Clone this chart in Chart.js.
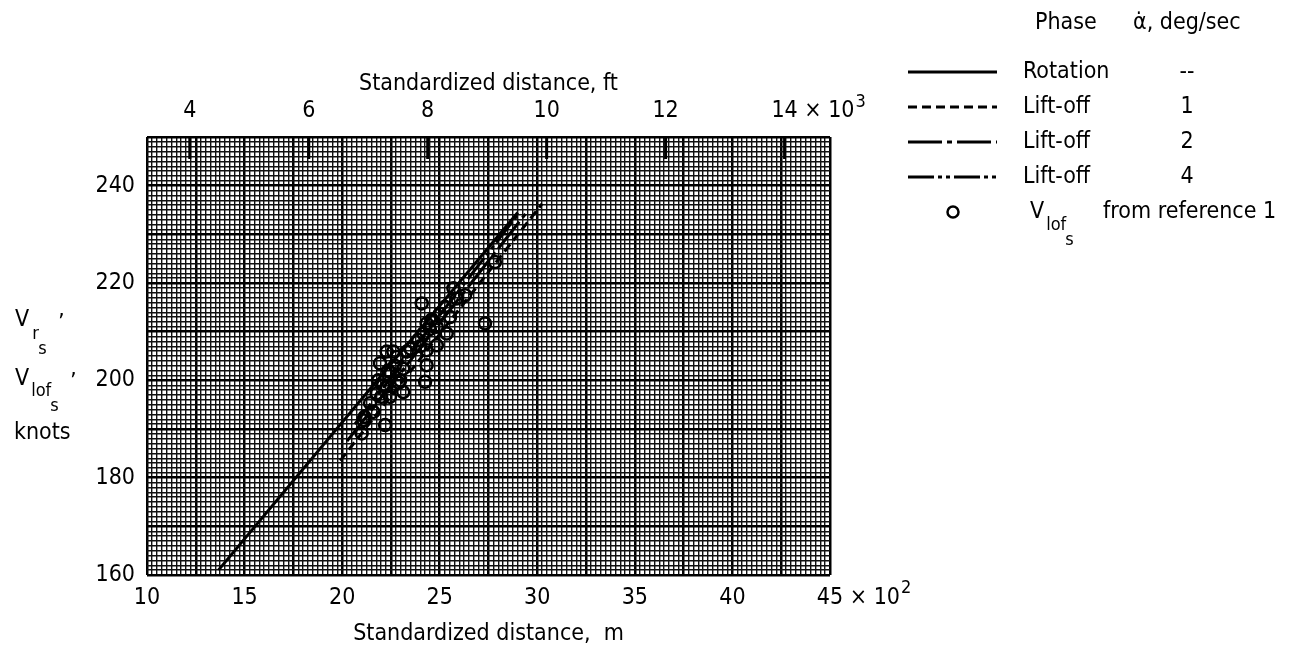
<!DOCTYPE html>
<html>
<head>
<meta charset="utf-8">
<script src="https://cdn.jsdelivr.net/npm/chart.js"></script>
<style>
  html, body { margin: 0; padding: 0; background: #fff; }
  #wrap { position: relative; width: 1297px; height: 652px; }
</style>
</head>
<body>
<div id="wrap"><canvas id="chart" width="1297" height="652"></canvas></div>
<script>
const FONT = "'DejaVu Sans Condensed', 'Liberation Sans Narrow', 'Liberation Sans', sans-serif";
const FS = 23;
const SUB = 18;
const M_TO_FT = 3.28084;

// Tick labels (the multiplier is written after the last one)
const mTicks = [1000, 1500, 2000, 2500, 3000, 3500, 4000, 4500];
const mTickLabels = ['10', '15', '20', '25', '30', '35', '40', '45'];
const mExponent = '2';
const ftTicks = [4000, 6000, 8000, 10000, 12000, 14000];
const ftTickLabels = ['4', '6', '8', '10', '12', '14'];
const ftExponent = '3';
const knotTicks = [160, 180, 200, 220, 240];

// Faired lines (distance m, speed knots)
const rotationDist = [1366, 2900];
const rotationSpeed = [161, 234.5];
const liftoff1Dist = [1990, 3025];
const liftoff1Speed = [183.5, 236.3];
const liftoff2Dist = [2025, 2955];
const liftoff2Speed = [187.5, 235];
const liftoff4Dist = [2065, 2900];
const liftoff4Speed = [191, 234];

// V_lof_s from reference 1
const refDist = [2100, 2108, 2115, 2143, 2160, 2177, 2185, 2194, 2200, 2210,
                 2220, 2228, 2228, 2235, 2245, 2245, 2262, 2270, 2280, 2290,
                 2297, 2313, 2313, 2331, 2350, 2390, 2408, 2416, 2425, 2433,
                 2433, 2433, 2450, 2485, 2485, 2501, 2527, 2536, 2553, 2570,
                 2587, 2630, 2732, 2783, 2460, 2400];
const refSpeed = [189.1, 191.8, 192.5, 195.3, 193.5, 197.3, 200.0, 203.5, 196.6, 199.0,
                  190.8, 205.9, 198.7, 202.0, 201.7, 196.6, 205.9, 203.0, 204.8, 199.5,
                  200.0, 202.4, 197.6, 205.9, 206.5, 208.3, 215.8, 209.6, 199.7, 203.1,
                  206.2, 211.7, 210.5, 207.2, 211.0, 213.7, 215.1, 209.6, 213.0, 218.9,
                  216.8, 217.5, 211.7, 224.3, 212.5, 207.0];

// Legend table
const legendPhases = ['Rotation', 'Lift-off', 'Lift-off', 'Lift-off'];
const legendRates = ['--', '1', '2', '4'];

const dashes = [[], [9, 5], [34, 5, 5, 5], [26, 4, 4, 4, 4, 4]];

function pts(xs, ys) {
  return xs.map((x, i) => ({ x: x, y: ys[i] }));
}

function lineSet(label, xs, ys, dash) {
  return {
    label: label,
    data: pts(xs, ys),
    showLine: true,
    borderColor: '#000',
    borderWidth: 3,
    borderDash: dash,
    pointRadius: 0,
    fill: false
  };
}

function gridColor(major) {
  return (ctx) => (ctx.tick && ctx.tick.value % major === 0) ? '#000' : '#111';
}
function gridWidth(major) {
  return (ctx) => (ctx.tick && ctx.tick.value % major === 0) ? 2.5 : 1.4;
}

function text(ctx, s, x, y, size, align, base) {
  ctx.font = size + 'px ' + FONT;
  ctx.textAlign = align || 'left';
  ctx.textBaseline = base || 'middle';
  ctx.fillText(s, x, y);
  return ctx.measureText(s).width;
}

// "× 10^n" after the last tick label of an axis, on the same line as that label
function multiplier(ctx, scale, exp) {
  const items = scale.getLabelItems().filter(it => it.label !== '');
  const it = items[items.length - 1];
  const base = it.options.textBaseline;
  const y = it.options.translation[1] + it.textOffset;
  ctx.font = FS + 'px ' + FONT;
  const px = it.options.translation[0] + ctx.measureText(it.label).width / 2;
  const w = text(ctx, ' \u00d7 10', px, y, FS, 'left', base);
  text(ctx, exp, px + w + 1, y - 9, SUB, 'left', base);
}

// inward ticks of the ft axis, multipliers, y-axis title and the legend table
const extras = {
  id: 'extras',
  afterDraw(chart) {
    const ctx = chart.ctx;
    const top = chart.scales.x2;
    const area = chart.chartArea;
    ctx.save();
    ctx.strokeStyle = '#000';
    ctx.fillStyle = '#000';
    ctx.lineWidth = 3;
    top.ticks.forEach(t => {
      const px = top.getPixelForValue(t.value);
      ctx.beginPath();
      ctx.moveTo(px, area.top);
      ctx.lineTo(px, area.top + 22);
      ctx.stroke();
    });

    multiplier(ctx, chart.scales.x, mExponent);
    multiplier(ctx, top, ftExponent);

    // y title
    let w = text(ctx, 'V', 15, 320, FS);
    text(ctx, 'r', 15 + w + 3, 334, SUB);
    text(ctx, 's', 15 + w + 9, 349, SUB);
    text(ctx, '\u2019', 58, 324, FS);
    w = text(ctx, 'V', 15, 379, FS);
    const w2 = text(ctx, 'lof', 15 + w + 2, 391, SUB);
    text(ctx, 's', 15 + w + w2 + 1, 406, SUB);
    text(ctx, '\u2019', 70, 383, FS);
    text(ctx, 'knots', 14, 433, FS);

    // legend
    text(ctx, 'Phase', 1035, 23, FS);
    text(ctx, '\u03b1\u0307, deg/sec', 1133, 23, FS);
    const rowY = [72, 107, 142, 177];
    legendPhases.forEach((p, i) => {
      ctx.setLineDash(dashes[i]);
      ctx.lineWidth = 3;
      ctx.beginPath();
      ctx.moveTo(908, rowY[i]);
      ctx.lineTo(997, rowY[i]);
      ctx.stroke();
      ctx.setLineDash([]);
      text(ctx, p, 1023, rowY[i], FS);
      text(ctx, legendRates[i], 1187, rowY[i], FS, 'center');
    });
    ctx.lineWidth = 2.5;
    ctx.beginPath();
    ctx.arc(953, 212, 5.5, 0, Math.PI * 2);
    ctx.stroke();
    w = text(ctx, 'V', 1030, 212, FS);
    const w3 = text(ctx, 'lof', 1030 + w + 2, 225, SUB);
    text(ctx, 's', 1030 + w + w3 + 1, 240, SUB);
    text(ctx, 'from reference 1', 1103, 212, FS);
    ctx.restore();
  }
};

new Chart(document.getElementById('chart'), {
  type: 'scatter',
  data: {
    datasets: [
      lineSet('Rotation', rotationDist, rotationSpeed, dashes[0]),
      lineSet('Lift-off 1', liftoff1Dist, liftoff1Speed, dashes[1]),
      lineSet('Lift-off 2', liftoff2Dist, liftoff2Speed, dashes[2]),
      lineSet('Lift-off 4', liftoff4Dist, liftoff4Speed, dashes[3]),
      {
        label: 'V_lof_s from reference 1',
        data: pts(refDist, refSpeed),
        pointStyle: 'circle',
        pointRadius: 6,
        borderWidth: 2.5,
        borderColor: '#000',
        backgroundColor: 'rgba(0,0,0,0)'
      }
    ]
  },
  options: {
    responsive: false,
    animation: false,
    events: [],
    layout: { padding: { left: 0, right: 467, top: 60, bottom: 0 } },
    plugins: { legend: { display: false }, tooltip: { enabled: false } },
    scales: {
      x: {
        type: 'linear', position: 'bottom', min: 1000, max: 4500,
        ticks: {
          stepSize: 25, autoSkip: false, maxRotation: 0, padding: 9,
          color: '#000', font: { family: FONT, size: FS },
          callback: (v) => { const i = mTicks.indexOf(v); return i < 0 ? '' : mTickLabels[i]; }
        },
        grid: { color: gridColor(250), lineWidth: gridWidth(250), drawTicks: false },
        border: { display: false },
        title: {
          display: true, text: 'Standardized distance,  m', color: '#000',
          font: { family: FONT, size: FS }, padding: { top: 0, bottom: 4 }
        },
        afterFit: (s) => { s.height = 77; }
      },
      x2: {
        type: 'linear', position: 'top', min: 1000 * M_TO_FT, max: 4500 * M_TO_FT,
        afterBuildTicks: (s) => { s.ticks = ftTicks.map(v => ({ value: v })); },
        ticks: {
          autoSkip: false, maxRotation: 0, padding: 4,
          color: '#000', font: { family: FONT, size: FS },
          callback: (v) => { const i = ftTicks.indexOf(v); return i < 0 ? '' : ftTickLabels[i]; }
        },
        grid: { display: false },
        border: { display: false },
        title: {
          display: true, text: 'Standardized distance, ft', color: '#000',
          font: { family: FONT, size: FS }, padding: { top: 10, bottom: 0 }
        },
        afterFit: (s) => { s.height = 77; }
      },
      y: {
        type: 'linear', position: 'left', min: 160, max: 250,
        ticks: {
          stepSize: 1, autoSkip: false, padding: 12,
          color: '#000', font: { family: FONT, size: FS },
          callback: (v) => knotTicks.includes(v) ? String(v) : ''
        },
        grid: { color: gridColor(10), lineWidth: gridWidth(10), drawTicks: false },
        border: { display: false },
        afterFit: (s) => { s.width = 147; }
      }
    }
  },
  plugins: [extras]
});
</script>
</body>
</html>
